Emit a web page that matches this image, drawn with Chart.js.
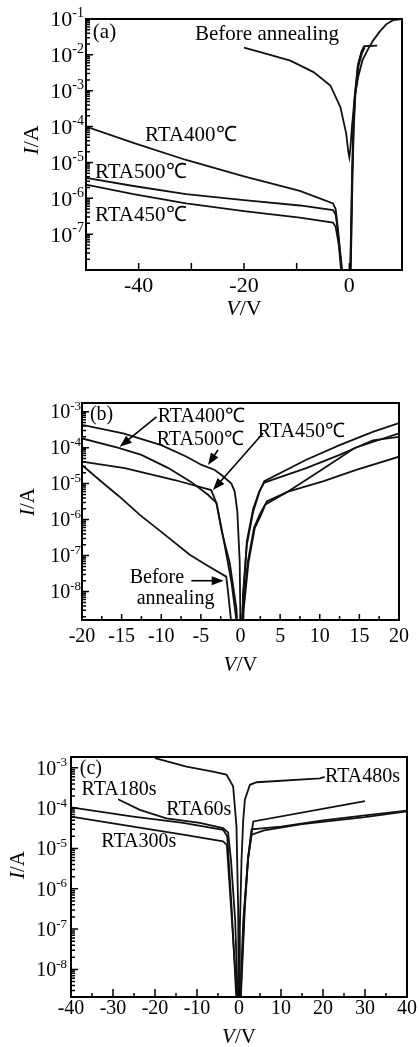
<!DOCTYPE html>
<html>
<head>
<meta charset="utf-8">
<script src="https://cdn.jsdelivr.net/npm/chart.js@4"></script>
<style>
  body { margin: 0; background: #fff; }
  #wrap { position: relative; width: 419px; height: 1047px; }
  canvas { position: absolute; left: 0; }
</style>
</head>
<body>
<div id="wrap">
  <canvas id="ca" width="419" height="320" style="top:0px"></canvas>
  <canvas id="cb" width="419" height="290" style="top:390px"></canvas>
  <canvas id="cc" width="419" height="307" style="top:740px"></canvas>
</div>
<script>
// ---- panel (a) : I-V, V from -50 to 10 ----
var aV400 = [-50, -41, -31, -20, -9.4, -3.1, -2.6, -2.2, -1.8, -1.3, -1.0, 0, 0.15, 0.35, 0.55, 0.8, 1.1, 1.7, 2.35, 2.8, 5.3];
var aI400 = [1e-4, 3.5e-5, 1.17e-5, 4.1e-6, 1.6e-6, 7.2e-7, 5.0e-7, 1.6e-7, 4.0e-8, 7.9e-9, 1e-10, 1e-10, 3.2e-9, 1e-7, 4.0e-6, 1e-4, 7.9e-4, 5.6e-3, 1.26e-2, 1.74e-2, 1.82e-2];
var aV500 = [-50, -41, -31, -20, -9.4, -3.1, -2.6, -2.2, -1.8, -1.4, -1.0, 0, 0.1, 0.3, 0.5, 0.75, 1.05, 1.6, 2.3, 2.8];
var aI500 = [3.7e-6, 2.2e-6, 1.3e-6, 8.9e-7, 6.3e-7, 4.7e-7, 3.5e-7, 1.26e-7, 3.2e-8, 7.9e-9, 1e-10, 1e-10, 3.2e-9, 1e-7, 4.0e-6, 1e-4, 7.9e-4, 5.0e-3, 1.2e-2, 1.66e-2];
var aV450 = [-50, -41, -31, -20, -9.4, -3.1, -2.6, -2.0, -1.5, -1.0, 0, 0.2, 0.4, 0.6, 0.85, 1.15, 1.75, 2.4, 2.9];
var aI450 = [2.4e-6, 1.3e-6, 7.2e-7, 4.4e-7, 2.9e-7, 2.1e-7, 1.6e-7, 5.0e-8, 7.9e-9, 1e-10, 1e-10, 3.2e-9, 1e-7, 4.0e-6, 1e-4, 7.9e-4, 5.0e-3, 1.1e-2, 1.6e-2];
var aVBefore = [-20, -16.9, -11.2, -6.8, -3.6, -1.7, -0.6, -0.2, 0, 0.2, 0.5, 1.0, 1.7, 2.5, 3.5, 4.5, 5.8, 7.0, 8.3, 10];
var aIBefore = [1.58e-2, 1.2e-2, 6.9e-3, 3.3e-3, 1.4e-3, 3.5e-4, 6.5e-5, 2.0e-5, 1.4e-5, 2.5e-5, 1e-4, 6.3e-4, 2.5e-3, 7.1e-3, 1.4e-2, 2.5e-2, 4.5e-2, 7.1e-2, 9.3e-2, 1e-1];
var aXTicks = [-40, -30, -20, -10, 0];
var aXLabels = [-40, -20, 0];
var aYExp = [-1, -2, -3, -4, -5, -6, -7];

// ---- panel (b) : V from -20 to 20 ----
var bV500 = [-20, -14.8, -10, -6.8, -4.9, -3.25, -2.4, -1.15, -0.73, -0.4, -0.1, 0.05, 0.2, 0.3, 0.8, 1.6, 2.4, 3.0, 8.3, 12.5, 16.7, 20];
var bI500 = [4.3e-4, 2.5e-4, 1.17e-4, 5.6e-5, 3.3e-5, 2.4e-5, 1.74e-5, 1.0e-5, 6.0e-6, 1.66e-6, 6.8e-8, 1e-10, 1e-10, 7.9e-9, 2.0e-7, 1.66e-6, 6.0e-6, 1.17e-5, 4.6e-5, 1.17e-4, 2.75e-4, 4.8e-4];
var bV400 = [-20, -15.5, -12.5, -9.1, -6.2, -4.1, -3.04, -2.4, -1.15, -0.4, 0, 0.25, 0.8, 1.6, 2.4, 3.0, 8.3, 12.5, 16.7, 20];
var bI400 = [1.8e-4, 1.0e-4, 6.3e-5, 2.7e-5, 1.1e-5, 4.9e-6, 2.9e-6, 5.8e-7, 1.9e-8, 1e-9, 1e-10, 3.2e-9, 2.5e-7, 2.0e-6, 6.3e-6, 1.07e-5, 2.7e-5, 6.3e-5, 1.6e-4, 2.0e-4];
var bV450 = [-20, -14.6, -8.3, -3.7, -3.0, -2.4, -1.36, -0.5, -0.2, 0.1, 0.35, 0.9, 1.7, 2.4, 3.1, 6.0, 10.2, 14.4, 20];
var bI450 = [4.1e-5, 2.7e-5, 1.26e-5, 6.6e-6, 2.75e-6, 5.0e-7, 6.3e-8, 3.2e-9, 1e-10, 1e-10, 3.2e-9, 6.3e-8, 5.8e-7, 1.35e-6, 2.6e-6, 6.0e-6, 2.4e-5, 9.8e-5, 2.5e-4];
var bVBefore = [-20, -17.8, -15.3, -12.7, -9.8, -6.4, -4.3, -1.8, -1.6, -1.15, -0.8, 0.2, 0.4, 1.0, 1.8, 2.6, 3.3, 6.0, 10.4, 14.6, 20];
var bIBefore = [3.3e-5, 1.26e-5, 4.4e-6, 1.35e-6, 4.2e-7, 1.05e-7, 5.5e-8, 2.6e-8, 1.12e-8, 1.26e-9, 1e-10, 1e-10, 3.2e-9, 6.3e-8, 5.8e-7, 1.35e-6, 3.2e-6, 6.0e-6, 1.15e-5, 2.4e-5, 5.6e-5];
var bXTicks = [-17.5, -15, -12.5, -10, -7.5, -5, -2.5, 0, 2.5, 5, 7.5, 10, 12.5, 15, 17.5];
var bXLabels = [-20, -15, -10, -5, 0, 5, 10, 15, 20];
var bYExp = [-3, -4, -5, -6, -7, -8];

// ---- panel (c) : V from -40 to 40 ----
var cV480 = [-20, -12.5, -6.2, -3.0, -1.4, -0.6, -0.2, 0, 0.2, 0.6, 1.0, 1.4, 2.6, 4.2, 19.3, 20.4];
var cI480 = [1.74e-3, 1.07e-3, 8.1e-4, 6.8e-4, 3.5e-4, 3.5e-5, 3.2e-7, 1e-10, 1e-7, 5.2e-6, 5.0e-5, 1.62e-4, 3.8e-4, 4.4e-4, 5.5e-4, 6.0e-4];
var cV180 = [-28.8, -23.6, -17.3, -9.3, -3.8, -2.6, -1.9, -0.9, -0.3, 0, 0.3, 1.0, 2.2, 3.4, 30];
var cI180 = [1.66e-4, 9.1e-5, 5.6e-5, 4.3e-5, 3.2e-5, 2.5e-5, 5.0e-6, 1.6e-7, 1.6e-9, 1e-10, 1.6e-9, 1.6e-7, 6.3e-6, 4.7e-5, 1.5e-4];
var cV60 = [-40, -25.2, -13.3, -3.8, -2.8, -1.8, -0.6, -0.2, 0.1, 0.4, 1.4, 2.2, 3.0, 10, 20, 30, 40];
var cI60 = [1.05e-4, 6.2e-5, 4.3e-5, 2.9e-5, 2.0e-5, 4.0e-7, 1.6e-9, 1e-10, 1e-10, 1.6e-9, 3.6e-7, 6.3e-6, 3.0e-5, 3.5e-5, 5.0e-5, 6.6e-5, 8.7e-5];
var cV300 = [-40, -25.2, -13.3, -3.8, -2.9, -1.9, -0.4, -0.1, 0.05, 0.3, 1.3, 2.1, 3.0, 6, 15, 30, 40];
var cI300 = [6.2e-5, 3.5e-5, 2.2e-5, 1.5e-5, 1.23e-5, 3.6e-7, 1.6e-9, 1e-10, 1e-10, 1.6e-9, 3.2e-7, 5.0e-6, 2.2e-5, 2.8e-5, 4.0e-5, 6.0e-5, 8.3e-5];
var cXTicks = [-35, -30, -25, -20, -15, -10, -5, 0, 5, 10, 15, 20, 25, 30, 35];
var cXLabels = [-40, -30, -20, -10, 0, 10, 20, 30, 40];
var cYExp = [-3, -4, -5, -6, -7, -8];

var SERIF = '"Liberation Serif", "Times New Roman", serif';

function line(vs, is) {
  return {
    data: vs.map(function (v, k) { return { x: v, y: is[k] }; }),
    borderColor: '#111', borderWidth: 1.8, pointRadius: 0, tension: 0, fill: false
  };
}

// draws frame, inside ticks, tick labels, axis titles and the text notes
function axesPlugin(p) {
  return {
    id: 'axes',
    afterDraw: function (chart) {
      var ctx = chart.ctx, xs = chart.scales.x, ys = chart.scales.y, ca = chart.chartArea;
      ctx.save();
      ctx.strokeStyle = '#000';
      ctx.fillStyle = '#000';

      // ticks
      ctx.lineWidth = 1.5;
      ctx.beginPath();
      p.xTicks.concat(p.xLabels).forEach(function (v) {
        if (v <= p.xMin || v >= p.xMax) return;
        var x = xs.getPixelForValue(v);
        var len = p.xLabels.indexOf(v) >= 0 ? p.xMajor : p.xMinor;
        ctx.moveTo(x, ca.bottom);
        ctx.lineTo(x, ca.bottom - len);
      });
      var e0 = Math.floor(Math.log10(p.yMin)), e1 = Math.ceil(Math.log10(p.yMax));
      for (var e = e0; e <= e1; e++) {
        for (var m = 1; m <= 9; m++) {
          var v = m * Math.pow(10, e);
          if (v < p.yMin * 1.001 || v > p.yMax * 0.999) continue;
          var y = ys.getPixelForValue(v);
          ctx.moveTo(ca.left, y);
          ctx.lineTo(ca.left + (m === 1 ? 7 : 4), y);
        }
      }
      ctx.stroke();

      // frame
      ctx.lineWidth = 2;
      ctx.strokeRect(ca.left, ca.top, ca.right - ca.left, ca.bottom - ca.top);

      // x tick labels
      ctx.font = p.tickSize + 'px ' + SERIF;
      ctx.textAlign = 'center';
      ctx.textBaseline = 'middle';
      p.xLabels.forEach(function (v) {
        ctx.fillText(String(v), xs.getPixelForValue(v), ca.bottom + p.xLabelOff);
      });

      // y tick labels 10^n
      ctx.textAlign = 'left';
      ctx.textBaseline = 'alphabetic';
      p.yExp.forEach(function (n) {
        var y = ys.getPixelForValue(Math.pow(10, n));
        var sup = String(n);
        ctx.font = p.supSize + 'px ' + SERIF;
        var sw = ctx.measureText(sup).width;
        ctx.font = p.tickSize + 'px ' + SERIF;
        var bw = ctx.measureText('10').width;
        var xr = ca.left - p.yGap;
        ctx.fillText('10', xr - sw - bw, y + p.tickSize * 0.34);
        ctx.font = p.supSize + 'px ' + SERIF;
        ctx.fillText(sup, xr - sw, y - p.tickSize * 0.08);
      });

      // x title  V/V
      ctx.font = 'italic ' + p.titleSize + 'px ' + SERIF;
      var w1 = ctx.measureText('V').width;
      ctx.font = p.titleSize + 'px ' + SERIF;
      var w2 = ctx.measureText('/V').width;
      var cx = (ca.left + ca.right) / 2 - (w1 + w2) / 2;
      ctx.textBaseline = 'middle';
      ctx.font = 'italic ' + p.titleSize + 'px ' + SERIF;
      ctx.fillText('V', cx, p.xTitleY);
      ctx.font = p.titleSize + 'px ' + SERIF;
      ctx.fillText('/V', cx + w1, p.xTitleY);

      // y title  I/A
      ctx.save();
      ctx.translate(p.yTitleX, p.yTitleY);
      ctx.rotate(-Math.PI / 2);
      ctx.font = 'italic ' + p.titleSize + 'px ' + SERIF;
      var u1 = ctx.measureText('I').width;
      ctx.font = p.titleSize + 'px ' + SERIF;
      var u2 = ctx.measureText('/A').width;
      ctx.font = 'italic ' + p.titleSize + 'px ' + SERIF;
      ctx.fillText('I', -(u1 + u2) / 2, 0);
      ctx.font = p.titleSize + 'px ' + SERIF;
      ctx.fillText('/A', -(u1 + u2) / 2 + u1, 0);
      ctx.restore();

      // notes on the plot
      ctx.font = p.noteSize + 'px ' + SERIF;
      ctx.textAlign = 'left';
      ctx.textBaseline = 'middle';
      p.notes.forEach(function (n) {
        ctx.fillText(n.t, xs.getPixelForValue(n.v), ys.getPixelForValue(n.i));
      });

      // arrows
      ctx.lineWidth = 1.6;
      p.arrows.forEach(function (a) {
        var x1 = xs.getPixelForValue(a[0]), y1 = ys.getPixelForValue(a[1]);
        var x2 = xs.getPixelForValue(a[2]), y2 = ys.getPixelForValue(a[3]);
        var ang = Math.atan2(y2 - y1, x2 - x1);
        var c = Math.cos(ang), s = Math.sin(ang);
        ctx.beginPath();
        ctx.moveTo(x1, y1);
        ctx.lineTo(x2 - 8 * c, y2 - 8 * s);
        ctx.stroke();
        ctx.beginPath();
        ctx.moveTo(x2, y2);
        ctx.lineTo(x2 - 12 * c + 4.5 * s, y2 - 12 * s - 4.5 * c);
        ctx.lineTo(x2 - 12 * c - 4.5 * s, y2 - 12 * s + 4.5 * c);
        ctx.closePath();
        ctx.fill();
      });
      ctx.restore();
    }
  };
}

function makePanel(id, p) {
  return new Chart(document.getElementById(id), {
    type: 'line',
    data: { datasets: p.series.map(function (s) { return line(s[0], s[1]); }) },
    options: {
      responsive: false,
      animation: false,
      devicePixelRatio: 1,
      layout: { padding: p.pad },
      scales: {
        x: { type: 'linear', min: p.xMin, max: p.xMax, display: false },
        y: { type: 'logarithmic', min: p.yMin, max: p.yMax, display: false }
      },
      plugins: { legend: { display: false }, tooltip: { enabled: false } }
    },
    plugins: [axesPlugin(p)]
  });
}

makePanel('ca', {
  series: [[aV400, aI400], [aV500, aI500], [aV450, aI450], [aVBefore, aIBefore]],
  pad: { left: 86, top: 19, right: 17, bottom: 50 },
  xMin: -50, xMax: 10, yMin: 1e-8, yMax: 1e-1,
  xTicks: aXTicks, xLabels: aXLabels, yExp: aYExp,
  xMajor: 7, xMinor: 7,
  tickSize: 22, supSize: 14, yGap: 2, xLabelOff: 16,
  titleSize: 22, xTitleY: 309, yTitleX: 32, yTitleY: 140,
  noteSize: 21,
  notes: [
    { t: '(a)', v: -48.7, i: 4.1e-2 },
    { t: 'Before annealing', v: -29.3, i: 3.6e-2 },
    { t: 'RTA400\u2103', v: -38.8, i: 5.8e-5 },
    { t: 'RTA500\u2103', v: -48.3, i: 5.4e-6 },
    { t: 'RTA450\u2103', v: -48.3, i: 3.4e-7 }
  ],
  arrows: []
});

makePanel('cb', {
  series: [[bV500, bI500], [bV400, bI400], [bV450, bI450], [bVBefore, bIBefore]],
  pad: { left: 82, top: 13, right: 20, bottom: 60 },
  xMin: -20, xMax: 20, yMin: 1.62e-9, yMax: 1.74e-3,
  xTicks: bXTicks, xLabels: bXLabels, yExp: bYExp,
  xMajor: 6, xMinor: 4,
  tickSize: 20, supSize: 13, yGap: 1, xLabelOff: 17,
  titleSize: 21, xTitleY: 275, yTitleX: 28, yTitleY: 112,
  noteSize: 20,
  notes: [
    { t: '(b)', v: -19.0, i: 8.1e-4 },
    { t: 'RTA400\u2103', v: -10.45, i: 7.2e-4 },
    { t: 'RTA500\u2103', v: -10.57, i: 1.63e-4 },
    { t: 'RTA450\u2103', v: 2.17, i: 2.77e-4 },
    { t: 'Before', v: -13.98, i: 2.35e-8 },
    { t: 'annealing', v: -13.1, i: 6.5e-9 }
  ],
  arrows: [
    [-10.6, 7.2e-4, -15.24, 1.06e-4],
    [-2.84, 8.6e-5, -4.1, 3.3e-5],
    [2.84, 2.5e-4, -3.47, 6.65e-6],
    [-6.2, 2.0e-8, -2.12, 2.0e-8]
  ]
});

makePanel('cc', {
  series: [[cV480, cI480], [cV180, cI180], [cV60, cI60], [cV300, cI300]],
  pad: { left: 71, top: 17, right: 12, bottom: 50 },
  xMin: -40, xMax: 40, yMin: 2.07e-9, yMax: 1.86e-3,
  xTicks: cXTicks, xLabels: cXLabels, yExp: cYExp,
  xMajor: 8, xMinor: 4,
  tickSize: 20, supSize: 13, yGap: 4, xLabelOff: 12,
  titleSize: 21, xTitleY: 297, yTitleX: 18, yTitleY: 125,
  noteSize: 20,
  notes: [
    { t: '(c)', v: -37.9, i: 9.4e-4 },
    { t: 'RTA180s', v: -37.5, i: 2.82e-4 },
    { t: 'RTA60s', v: -17.3, i: 9.0e-5 },
    { t: 'RTA300s', v: -32.8, i: 1.48e-5 },
    { t: 'RTA480s', v: 20.5, i: 6.0e-4 }
  ],
  arrows: []
});
</script>
</body>
</html>
